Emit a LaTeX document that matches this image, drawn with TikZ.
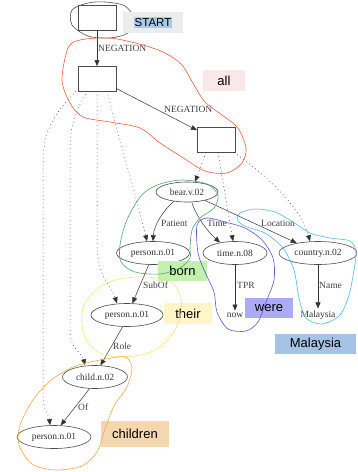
\documentclass[tikz,border=0pt]{standalone}
\usepackage{fontspec}
\setmainfont{Liberation Serif}
\newfontfamily\tagfont{Liberation Sans}
\usetikzlibrary{
  positioning,
  arrows.meta,
  shapes.geometric
}

\definecolor{startGray}{RGB}{236,236,236}
\definecolor{startBlue}{RGB}{170,200,235}
\definecolor{allPink}{RGB}{250,232,232}
\definecolor{bornGreen}{RGB}{195,240,175}
\definecolor{theirYellow}{RGB}{255,245,200}
\definecolor{werePurple}{RGB}{172,172,245}
\definecolor{malBlue}{RGB}{165,195,228}
\definecolor{childPeach}{RGB}{245,215,175}
\definecolor{loopGray}{RGB}{80,80,80}
\definecolor{loopRed}{RGB}{232,95,65}
\definecolor{loopGreen}{RGB}{80,165,110}
\definecolor{loopPurple}{RGB}{95,85,195}
\definecolor{loopCyan}{RGB}{85,185,220}
\definecolor{loopYellow}{RGB}{250,230,110}
\definecolor{loopOrange}{RGB}{240,170,70}

\begin{document}
\begin{tikzpicture}[
    x=1pt,y=-1pt,node distance=62pt,
    boxNode/.style={draw=black!70,line width=0.6pt,minimum width=38pt,minimum height=25pt,outer sep=0pt},
    conceptNode/.style={draw=black!70,line width=0.6pt,ellipse,minimum height=23pt,inner sep=1pt,
      text=black!80,font=\fontsize{9.5}{11}\selectfont},
    leafNode/.style={text=black!80,font=\fontsize{9.5}{11}\selectfont,inner sep=2pt},
    relLabel/.style={text=black!75,font=\fontsize{9.5}{11}\selectfont,inner sep=0pt},
    relEdge/.style={draw=black!80,line width=0.5pt,-{Triangle[length=6pt,width=5pt]}},
    anchorEdge/.style={relEdge,dash pattern=on 0.8pt off 3pt},
    tagLabel/.style={inner sep=0pt,minimum height=20pt,font=\tagfont\fontsize{13}{15}\selectfont},
    loopLine/.style={line width=0.6pt},
  ]
    \useasboundingbox (0,0) rectangle (357,472);

    % negation boxes
    \node[boxNode] (box0) at (97,17.5) {};
    \node[boxNode, below of=box0, node distance=61pt] (box1) {};
    \node[boxNode] (box2) at (216,140) {};

    \draw[relEdge] (box0) -- (box1);
    \draw[relEdge] (box1) -- (box2);
    \node[relLabel, anchor=west] (neg0) at (98,48) {NEGATION};
    \node[relLabel, anchor=west] (neg1) at (164,109) {NEGATION};

    % concepts
    \node[conceptNode, minimum width=62pt, minimum height=20pt] (bear) at (187,192) {bear.v.02};
    \node[conceptNode, minimum width=73pt] (personA) at (153,253) {person.n.01};
    \node[conceptNode, minimum width=64pt] (time) at (235,253) {time.n.08};
    \node[conceptNode, minimum width=78pt] (country) at (318,253) {country.n.02};
    \node[leafNode, below of=time] (now) {now};
    \node[leafNode, below of=country] (malaysia) {Malaysia};
    \node[conceptNode, minimum width=72pt] (personB) at (127,315) {person.n.01};
    \node[conceptNode, minimum width=65pt] (child) at (95,377) {child.n.02};
    \node[conceptNode, minimum width=74pt] (personC) at (54,437) {person.n.01};

    % roles
    \draw[relEdge] (bear.-145) .. controls (163,211) and (154,225) .. (personA.north);
    \draw[relEdge] (bear.-65) .. controls (196,216) and (208,232) .. (time.145);
    \draw[relEdge] (bear.-25) -- (country.155);
    \draw[relEdge] (personA.-110) -- (personB.65);
    \draw[relEdge] (time) -- (now);
    \draw[relEdge] (country) -- (malaysia);
    \draw[relEdge] (personB.-110) -- (child.65);
    \draw[relEdge] (child.-115) -- (personC.60);

    \node[relLabel, anchor=west] (patientLbl) at (161,223) {Patient};
    \node[relLabel, anchor=west] (timeLbl) at (207,223) {Time};
    \node[relLabel, anchor=west] (locationLbl) at (261,223) {Location};
    \node[relLabel, anchor=west] (subofLbl) at (143,285) {SubOf};
    \node[relLabel, anchor=west] (tprLbl) at (237,285) {TPR};
    \node[relLabel, anchor=west] (nameLbl) at (319,285) {Name};
    \node[relLabel, anchor=west] (roleLbl) at (113,346) {Role};
    \node[relLabel, anchor=west] (ofLbl) at (78,407) {Of};

    % scope links
    \draw[anchorEdge] ([xshift=-10pt]box2.south) -- ([xshift=8pt]bear.north);
    \draw[anchorEdge] ([xshift=2pt]box2.south) -- ([xshift=-2pt]time.north);
    \draw[anchorEdge] ([xshift=18pt]box2.south) .. controls (262,172) and (300,205) .. ([xshift=-8pt]country.north);
    \draw[anchorEdge] ([xshift=10pt]box1.south) .. controls (118,135) and (136,195) .. ([xshift=-6pt]personA.north);
    \draw[anchorEdge] (box1.south) -- (97,245) .. controls (97,275) and (112,288) .. ([xshift=-10pt]personB.north);
    \draw[anchorEdge] ([xshift=-9pt]box1.south) .. controls (74,112) and (70,125) .. (70,155)
      -- (70,330) .. controls (70,350) and (82,352) .. ([xshift=-10pt]child.north);
    \draw[anchorEdge] ([xshift=-21pt]box1.south) .. controls (50,118) and (43,135) .. (43,165)
      -- (43,395) .. controls (43,410) and (49,415) .. ([xshift=-4pt]personC.north);

    % start loop, under its tag
    \draw[loopLine, loopGray] plot[smooth cycle] coordinates {(88,3) (72,10) (72,25) (88,36) (110,38) (128,33) (135,20) (125,6) (105,2)};

    % word tags
    \node[tagLabel, fill=startGray, minimum width=60pt, minimum height=21pt] (startTag) at (153,22.5)
      {\fontsize{11.5}{13}\selectfont\setlength{\fboxsep}{1pt}\colorbox{startBlue}{START}};
    \node[tagLabel, fill=allPink, minimum width=42pt, minimum height=21pt] (allTag) at (224,80.5) {all};
    \node[tagLabel, fill=bornGreen, minimum width=49pt] (bornTag) at (182.5,271) {born};
    \node[tagLabel, fill=theirYellow, minimum width=48pt, minimum height=21pt] (theirTag) at (188,313.5) {their};
    \node[tagLabel, fill=werePurple, minimum width=48pt] (wereTag) at (269,308) {were};
    \node[tagLabel, fill=malBlue, minimum width=81pt] (malTag) at (315.5,344) {Malaysia};
    \node[tagLabel, fill=childPeach, minimum width=68pt, minimum height=26pt] (childTag) at (135,434) {children};

    % alignment loops
    \draw[loopLine, loopRed] plot[smooth cycle] coordinates {(68,48) (80,40) (110,38) (143,45) (165,53) (182,65) (194,85)
      (205,102) (222,115) (238,128) (246,148) (242,163) (227,173) (205,171) (182,157) (160,143) (140,128) (110,122)
      (83,117) (70,103) (62,80)};
    \draw[loopLine, loopGreen] plot[smooth cycle] coordinates {(145,192) (160,184) (182,180) (207,184) (218,195) (214,208)
      (200,218) (192,230) (190,248) (190,258) (180,268) (160,274) (135,272) (121,262) (120,245) (126,222) (136,203)};
    \draw[loopLine, loopPurple] plot[smooth cycle] coordinates {(197,225) (207,218) (225,222) (245,228) (262,240) (273,258)
      (274,280) (266,302) (258,322) (246,331) (228,329) (217,312) (214,292) (205,272) (198,253)};
    \draw[loopLine, loopCyan] plot[smooth cycle] coordinates {(240,213) (255,209) (275,212) (293,222) (310,233) (330,238)
      (350,241) (356,252) (354,270) (349,295) (340,315) (322,324) (306,318) (299,298) (294,270) (283,248) (265,233)
      (247,227) (238,221)};
    \draw[loopLine, loopYellow] plot[smooth cycle] coordinates {(84,305) (100,287) (120,279) (147,277) (172,283) (181,298)
      (180,318) (172,335) (157,349) (135,356) (105,355) (88,343) (82,325)};
    \draw[loopLine, loopOrange] plot[smooth cycle] coordinates {(73,367) (100,360) (125,357) (132,368) (127,387) (114,406)
      (104,432) (97,452) (82,466) (55,470) (32,464) (19,445) (20,425) (33,400) (50,381)};
  \end{tikzpicture}
\end{document}
